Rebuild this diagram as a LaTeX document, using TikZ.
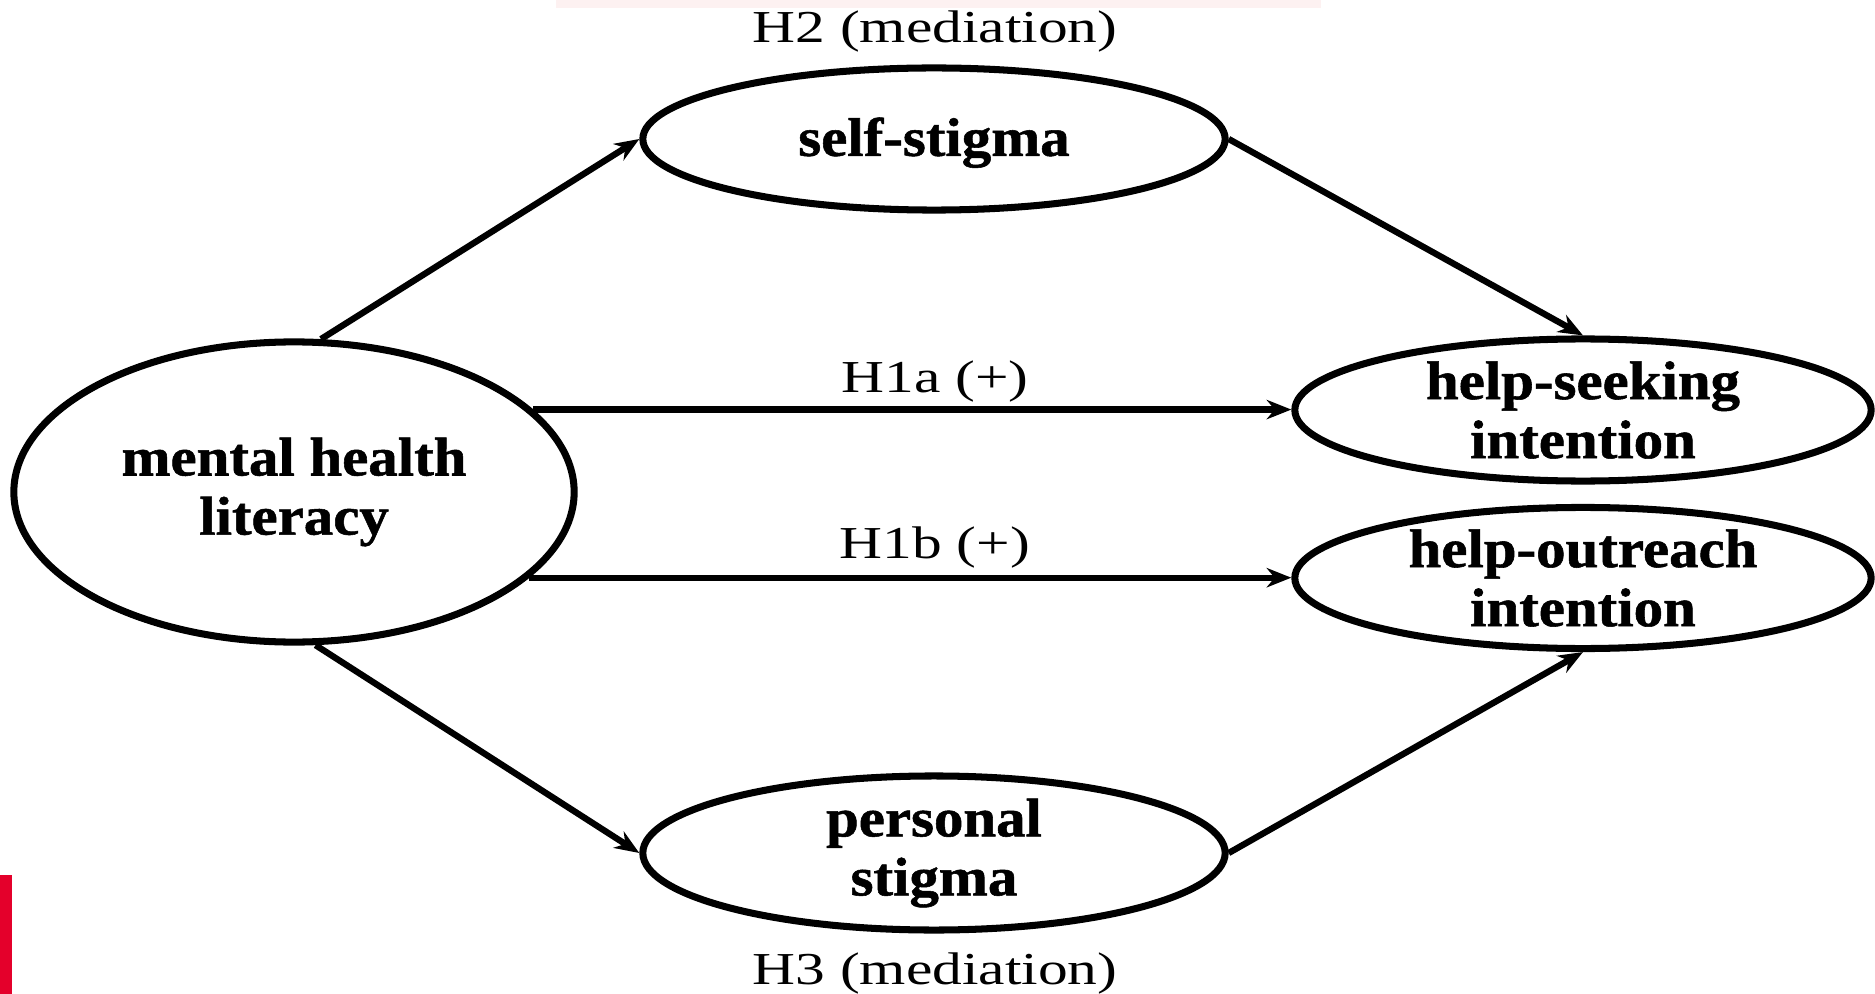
\documentclass[tikz,border=0pt]{standalone}
\usepackage{fontspec}
\setmainfont{Liberation Serif}
\newfontfamily\lblfont{Liberation Serif}[FakeStretch=1.3]
\newfontfamily\nodefont{Liberation Serif}[FakeStretch=1.08,FakeBold=1]
\usetikzlibrary{shapes.geometric,arrows.meta}
\definecolor{barred}{RGB}{228,0,43}
\definecolor{faintpink}{RGB}{253,241,241}
\tikzset{
  var/.style={draw=black, line width=2pt, ellipse, inner sep=0pt, align=center,
    font=\nodefont\bfseries\fontsize{15.5}{16.8}\selectfont},
  arr/.style={draw=black, line width=1.8pt, -{Stealth[length=7pt,width=5.5pt]}},
  hyp/.style={anchor=base, inner sep=0pt, font=\lblfont\fontsize{13}{15}\selectfont}
}
\begin{document}
\begin{tikzpicture}[x=0.01cm, y=-0.01cm]
\useasboundingbox (0,0) rectangle (1875,994);
\fill[white] (0,0) rectangle (1875,994);
\fill[faintpink] (556,0) rectangle (1321,8);
\fill[barred] (0,875) rectangle (12,994);

\node[var, minimum width=5.6cm, minimum height=3.0cm] (mhl) at (294,492) {mental health\\literacy};
\node[var, minimum width=5.82cm, minimum height=1.42cm] (ss) at (934,139) {\raisebox{-4.8pt}[0pt][0pt]{self-stigma}};
\node[var, minimum width=5.76cm, minimum height=1.42cm] (hsi) at (1583,410) {help-seeking\\intention};
\node[var, minimum width=5.76cm, minimum height=1.41cm] (hoi) at (1583,578) {help-outreach\\intention};
\node[var, minimum width=5.82cm, minimum height=1.44cm] (ps) at (934,853) {personal\\stigma};

\draw[arr] (mhl.80.4) -- (ss.west);
\draw[arr] (ss.east) -- (hsi.north);
\draw[arr] (mhl.19.27) -- (mhl.19.27 -| hsi.west);
\draw[arr] (mhl.-20.55) -- (mhl.-20.55 -| hoi.west);
\draw[arr] (mhl.-82.8) -- (ps.west);
\draw[arr] (ps.east) -- (hoi.south);

\node[hyp] (h2) at (935,43) {H2 (mediation)};
\node[hyp] (h1a) at (935,393) {H1a (+)};
\node[hyp] (h1b) at (935,558) {H1b (+)};
\node[hyp] (h3) at (935,984) {H3 (mediation)};
\end{tikzpicture}
\end{document}
